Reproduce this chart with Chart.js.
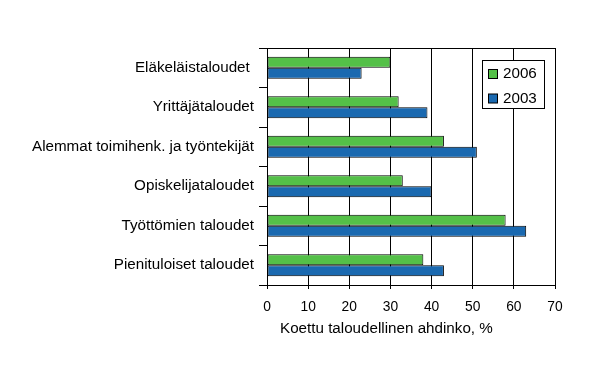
<!DOCTYPE html>
<html>
<head>
<meta charset="utf-8">
<script src="https://cdn.jsdelivr.net/npm/chart.js@4"></script>
<style>
  body { margin: 0; background: #fff; }
  #wrap { width: 600px; height: 366px; }
</style>
</head>
<body>
<div id="wrap"><canvas id="ahdinkoChart" width="600" height="366"></canvas></div>
<script>
// data
const categories = ['Eläkeläistaloudet ', 'Yrittäjätaloudet', 'Alemmat toimihenk. ja työntekijät',
    'Opiskelijataloudet', 'Työttömien taloudet', 'Pienituloiset taloudet'];
const values2006 = [30, 32, 43, 33, 58, 38];
const values2003 = [23, 39, 51, 40, 63, 43];
const seriesLabels = ['2006', '2003'];
const xTicks = [0, 10, 20, 30, 40, 50, 60, 70];
const axisTitle = 'Koettu taloudellinen ahdinko, %';

const GREEN = 'rgb(84, 192, 72)';
const BLUE = 'rgb(26, 105, 176)';
const FAMILY = 'Liberation Sans, Arial, sans-serif';
const LABEL_FONT = { family: FAMILY, size: 15.2 };
const TICK_FONT = { family: FAMILY, size: 13.8 };

// legend box, frame line and axis title
const extras = {
    id: 'extras',
    afterDraw(chart) {
        const ctx = chart.ctx;
        const area = chart.chartArea;
        ctx.save();
        // top frame line
        ctx.strokeStyle = '#000';
        ctx.lineWidth = 1;
        ctx.beginPath();
        ctx.moveTo(area.left, area.top + 0.5);
        ctx.lineTo(area.right, area.top + 0.5);
        ctx.stroke();

        // legend
        ctx.fillStyle = '#fff';
        ctx.fillRect(482.5, 60.5, 62, 48);
        ctx.strokeRect(482.5, 60.5, 62, 48);
        ctx.font = LABEL_FONT.size + 'px ' + FAMILY;
        ctx.textBaseline = 'middle';
        chart.data.datasets.forEach((ds, i) => {
            const y = 74 + i * 24.5;
            ctx.fillStyle = ds.backgroundColor;
            ctx.fillRect(488.5, y - 4.5, 9, 9);
            ctx.strokeStyle = '#000';
            ctx.strokeRect(488.5, y - 4.5, 9, 9);
            ctx.fillStyle = '#000';
            ctx.textAlign = 'left';
            ctx.fillText(ds.label, 503, y);
        });

        // x axis title
        ctx.fillStyle = '#000';
        ctx.textAlign = 'left';
        ctx.fillText(axisTitle, area.left + 13, 329);
        ctx.restore();
    }
};

const ctx = document.getElementById('ahdinkoChart').getContext('2d');
new Chart(ctx, {
    type: 'bar',
    data: {
        labels: categories,
        datasets: [
            { label: seriesLabels[0], data: values2006, backgroundColor: GREEN },
            { label: seriesLabels[1], data: values2003, backgroundColor: BLUE }
        ]
    },
    options: {
        indexAxis: 'y',
        responsive: false,
        animation: false,
        devicePixelRatio: 1,
        layout: { padding: { left: 0, right: 45, top: 48, bottom: 0 } },
        datasets: {
            bar: {
                borderColor: '#000',
                borderWidth: 1,
                borderSkipped: false,
                categoryPercentage: 0.56,
                barPercentage: 1
            }
        },
        scales: {
            x: {
                min: 0,
                max: 70,
                afterBuildTicks: axis => { axis.ticks = xTicks.map(v => ({ value: v })); },
                afterFit: axis => { axis.height = 81; },
                grid: { color: '#000', tickLength: 4, tickColor: '#000' },
                border: { color: '#000' },
                ticks: { color: '#000', font: TICK_FONT, padding: 10 }
            },
            y: {
                afterFit: axis => { axis.width = 267; },
                grid: { drawOnChartArea: false, tickLength: 8, color: '#000' },
                border: { color: '#000' },
                ticks: { color: '#000', font: LABEL_FONT, padding: 5 }
            }
        },
        plugins: {
            legend: { display: false },
            tooltip: { enabled: false }
        }
    },
    plugins: [extras]
});
</script>
</body>
</html>
